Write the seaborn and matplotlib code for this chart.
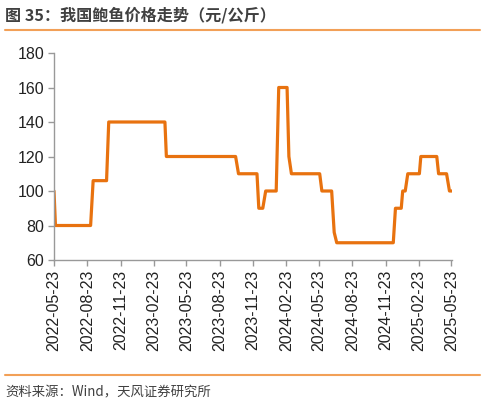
import matplotlib
matplotlib.use("Agg")
import matplotlib.pyplot as plt
import matplotlib.dates as mdates
import seaborn as sns
import pandas as pd

# price change points (元/公斤)
dates = [
    "2022-05-23", "2022-05-27", "2022-09-01", "2022-09-08", "2022-10-15",
    "2022-10-21", "2023-03-25", "2023-03-29", "2023-10-06", "2023-10-14",
    "2023-12-04", "2023-12-09", "2023-12-20", "2023-12-28", "2024-01-26",
    "2024-02-02", "2024-02-25", "2024-03-01", "2024-03-08", "2024-05-25",
    "2024-05-31", "2024-06-27", "2024-07-04", "2024-07-11", "2024-12-14",
    "2024-12-20", "2025-01-05", "2025-01-09", "2025-01-16", "2025-01-23",
    "2025-02-24", "2025-02-28", "2025-04-13", "2025-04-18", "2025-05-10",
    "2025-05-18", "2025-05-25",
]
prices = [
    100, 80, 80, 106, 106,
    140, 140, 120, 120, 110,
    110, 90, 90, 100, 100,
    160, 160, 120, 110, 110,
    100, 100, 76, 70, 70,
    90, 90, 100, 100, 110,
    110, 120, 120, 110, 110,
    100, 100,
]
tick_dates = [
    "2022-05-23", "2022-08-23", "2022-11-23", "2023-02-23", "2023-05-23",
    "2023-08-23", "2023-11-23", "2024-02-23", "2024-05-23", "2024-08-23",
    "2024-11-23", "2025-02-23", "2025-05-23",
]
y_ticks = [60, 80, 100, 120, 140, 160, 180]

df = pd.DataFrame({"date": pd.to_datetime(dates), "price": prices})

sns.set_style("white")
plt.rcParams["font.family"] = ["Liberation Sans", "Noto Sans CJK SC", "DejaVu Sans"]

fig = plt.figure(figsize=(4.85, 4.04), dpi=100)
ax = fig.add_axes([54 / 485, 1 - 260 / 404, (452 - 54) / 485, (260 - 53) / 404])

sns.lineplot(data=df, x="date", y="price", ax=ax, color="#E8720F", linewidth=2.3)

ax.set_xlim(pd.Timestamp("2022-05-23"), pd.Timestamp("2025-05-25"))
ax.set_ylim(60, 180)
ax.set_yticks(y_ticks)
ax.set_xticks(pd.to_datetime(tick_dates))
ax.xaxis.set_major_formatter(mdates.DateFormatter("%Y-%m-%d"))
ax.tick_params(axis="x", rotation=90, labelsize=11.5, length=4, width=1,
               direction="out", bottom=True, pad=3)
ax.tick_params(axis="y", labelsize=11.5, length=4, width=1,
               direction="out", left=True, pad=3)
ax.tick_params(axis="both", color="#999999", labelcolor="#222222")
ax.set_xlabel("")
ax.set_ylabel("")
for side in ["top", "right"]:
    ax.spines[side].set_visible(False)
for side in ["left", "bottom"]:
    ax.spines[side].set_color("#999999")
    ax.spines[side].set_linewidth(1)

cjk = ["Noto Sans CJK SC", "DejaVu Sans"]
fig.text(5 / 485, 1 - 15 / 404, "图 35：我国鲍鱼价格走势（元/公斤）", family=cjk,
         fontsize=11.6, fontweight="bold", color="#404040", va="center", ha="left")
fig.add_artist(plt.Line2D([5 / 485, 480 / 485], [1 - 29.5 / 404] * 2,
                          color="#F2A057", linewidth=1.5))
fig.add_artist(plt.Line2D([5 / 485, 480 / 485], [1 - 375 / 404] * 2,
                          color="#F2A057", linewidth=1.5))
fig.text(5 / 485, 1 - 392 / 404, "资料来源：Wind，天风证券研究所", family=cjk,
         fontsize=9.6, color="#404040", va="center", ha="left")

fig.savefig("out.png", dpi=100)
